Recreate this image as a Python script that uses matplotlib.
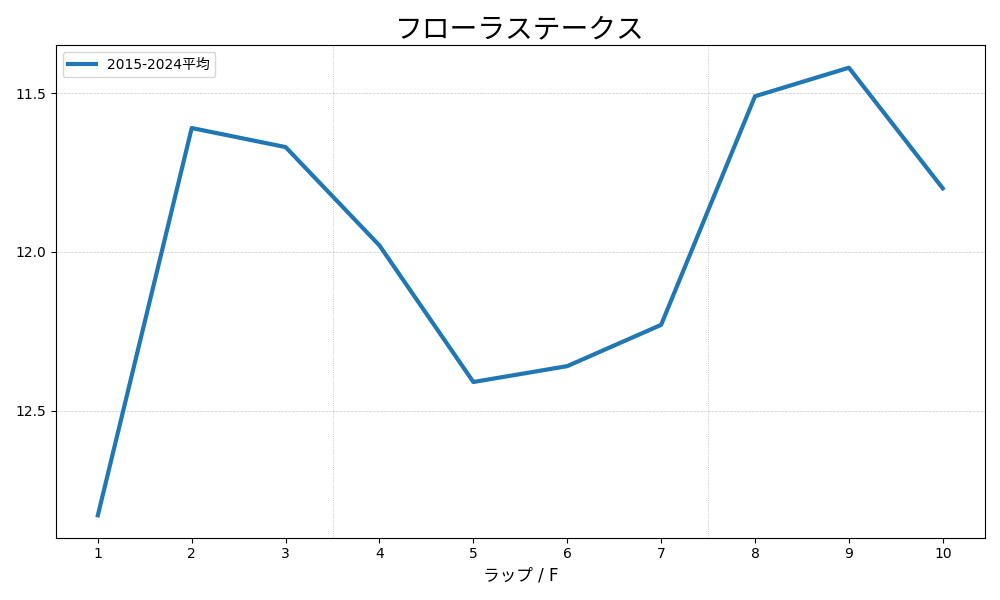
import matplotlib
matplotlib.use('Agg')
import matplotlib.pyplot as plt

plt.rcParams['font.family'] = ['DejaVu Sans', 'Noto Sans CJK JP']

# Lap data
laps = [1, 2, 3, 4, 5, 6, 7, 8, 9, 10]
avg_times = [12.83, 11.61, 11.67, 11.98, 12.41, 12.36, 12.23, 11.51, 11.42, 11.80]
series_label = '2015-2024平均'
title = 'フローラステークス'
section_marks = [3.5, 7.5]

fig, ax = plt.subplots(figsize=(10, 6), dpi=100)

ax.plot(laps, avg_times, color='#1f77b4', linewidth=3, label=series_label)

for x in section_marks:
    ax.axvline(x, color='gray', linestyle=':', linewidth=0.6, alpha=0.6)

ax.set_xticks(laps)
ax.set_yticks([11.5, 12.0, 12.5])
ax.invert_yaxis()
ax.grid(axis='y', linestyle='--', linewidth=0.5, alpha=0.7)

ax.set_title(title, fontsize=20)
ax.set_xlabel('ラップ / F', fontsize=12)
ax.legend(loc='upper left')

plt.tight_layout()
plt.savefig('out.png')
